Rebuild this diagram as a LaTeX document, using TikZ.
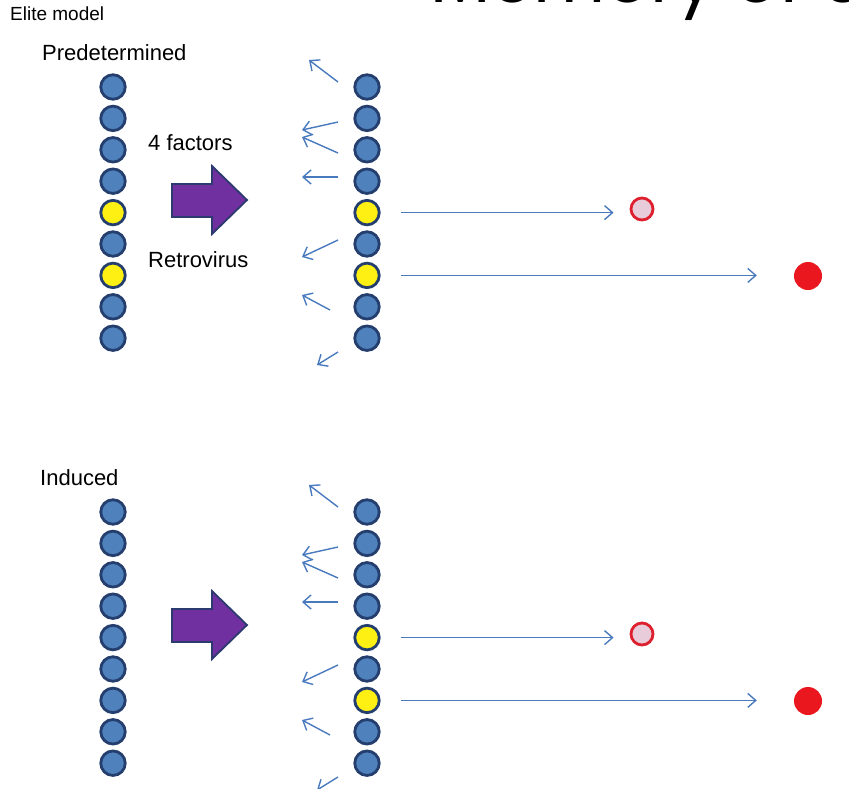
\documentclass[tikz,border=0pt]{standalone}
\usepackage{fontspec}
\setmainfont{Liberation Sans}
\newfontfamily\titlefont{Poppins}
\usetikzlibrary{arrows.meta}
\definecolor{cellblue}{RGB}{79,129,189}
\definecolor{celledge}{RGB}{36,62,110}
\definecolor{cellyellow}{RGB}{255,240,20}
\definecolor{arrowblue}{RGB}{74,122,190}
\definecolor{pushpurple}{RGB}{112,48,160}
\definecolor{pushedge}{RGB}{44,58,112}
\definecolor{fatepink}{RGB}{232,204,218}
\definecolor{fateedge}{RGB}{222,32,46}
\definecolor{fatered}{RGB}{234,24,30}

\begin{document}
\begin{tikzpicture}[x=1pt,y=-1pt,
  cell/.style={circle,draw=celledge,line width=2.8pt,fill=cellblue,minimum size=24.5pt,inner sep=0pt},
  lab/.style={anchor=west,inner sep=0pt,font=\fontsize{22}{26}\selectfont},
  fly/.style={draw=arrowblue,line width=1.4pt,-{Straight Barb[length=8pt,width=14pt]}},
  push/.style={fill=pushpurple,draw=pushedge,line width=1.8pt,line join=miter}]
\useasboundingbox (0,0) rectangle (849,788);
\clip (0,0) rectangle (849,788);
\node[anchor=base west,inner sep=0pt,font=\titlefont\fontsize{70}{74}\selectfont] (title) at (430,2) {Memory of c};
\node[lab,font=\fontsize{19}{22}\selectfont] (elite) at (10,14) {Elite model};
\node[lab] (pre) at (42,53) {Predetermined};
\node[lab] (four) at (148,143) {4 factors};
\node[lab] (retro) at (148,260) {Retrovirus};
\node[lab] (ind) at (40,478) {Induced};
\foreach \p/\dy/\tint in {t/0/cellyellow,b/425/cellblue}{
  \begin{scope}[yshift=-\dy pt]
    \foreach \i/\f in {1/cellblue,2/cellblue,3/cellblue,4/cellblue,5/\tint,6/cellblue,7/\tint,8/cellblue,9/cellblue}
      \node[cell,fill=\f] (\p l\i) at (113,{87+31.4*(\i-1)}) {};
    \foreach \i/\f in {1/cellblue,2/cellblue,3/cellblue,4/cellblue,5/cellyellow,6/cellblue,7/cellyellow,8/cellblue,9/cellblue}
      \node[cell,fill=\f] (\p r\i) at (367,{87+31.4*(\i-1)}) {};
    \draw[push] (172,184) -- (212,184) -- (212,166) -- (247,200) -- (212,234) -- (212,217) -- (172,217) -- cycle;
    \foreach \a/\b/\c/\d [count=\j] in {338/82/309/60,338/122/302/130,338/153/302/137,338/177/302/177,338/240/302/257,330/310/302/295,338/352/317/365}{
      \coordinate (\p s\j) at (\a,\b);
      \coordinate (\p e\j) at (\c,\d);
      \draw[fly] (\p s\j) -- (\p e\j);
    }
    \node[circle,draw=fateedge,fill=fatepink,line width=2.8pt,minimum size=22pt,inner sep=0pt] (\p pale) at (642,209) {};
    \node[circle,fill=fatered,minimum size=28pt,inner sep=0pt] (\p full) at (808,276) {};
    \draw[fly,shorten <=20pt,shorten >=16pt] (\p r5.east) -- (\p r5.east -| \p pale.west);
    \draw[fly,shorten <=20pt,shorten >=37pt] (\p r7.east) -- (\p r7.east -| \p full.west);
  \end{scope}
}
\end{tikzpicture}
\end{document}
